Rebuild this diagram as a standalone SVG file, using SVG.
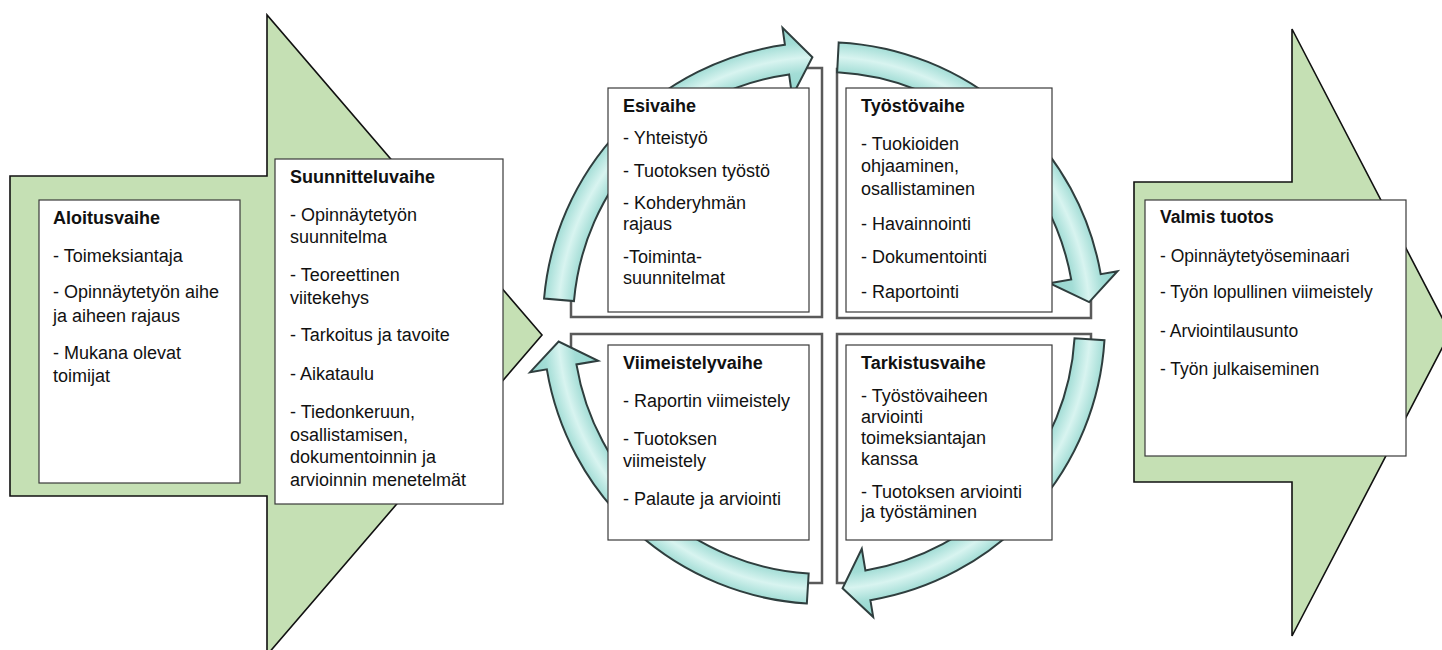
<svg xmlns="http://www.w3.org/2000/svg" width="1442" height="650" viewBox="0 0 1442 650">
  <style>
    .big { fill: #c5e0b4; stroke: #111; stroke-width: 1.6; stroke-linejoin: miter; }
    .box { fill: #fff; stroke: #3a3a3a; stroke-width: 1.2; }
    .panel { fill: #fff; stroke: #5a5a5a; stroke-width: 2.5; }
    .ring { fill: url(#ringGrad); stroke: #2f3e3e; stroke-width: 2; stroke-linejoin: miter; }
    text { font-family: "Liberation Sans", Arial, sans-serif; font-size: 18px; fill: #111; }
    .t { font-weight: bold; }
    .r text { font-size: 17.5px; }
  </style>
  <defs>
    <radialGradient id="ringGrad" gradientUnits="userSpaceOnUse" cx="824" cy="323" r="300">
      <stop offset="0.76" stop-color="#8fd4cc"/>
      <stop offset="0.837" stop-color="#a3ddd6"/>
      <stop offset="0.887" stop-color="#d8f4f0"/>
      <stop offset="0.937" stop-color="#a3ddd6"/>
      <stop offset="1" stop-color="#8fd4cc"/>
    </radialGradient>
    <clipPath id="ringClip">
      <circle cx="824" cy="323" r="272"/>
    </clipPath>
    <path id="cycArrow" class="ring" d="M 544.07,298.51 A 281 281 0 0 1 784.89,44.73 L 782.53,27.90 L 812.40,57.25 L 792.13,96.23 L 789.07,74.44 A 251 251 0 0 0 573.96,301.12 Z"/>
  </defs>

  <g id="arrow-left">
    <polygon class="big" points="10,176 267,176 267,15 542,335 267,655 267,496 10,496"/>
  </g>
  <g id="arrow-right">
    <polygon class="big" points="1134,182 1292,182 1292,29 1450,333 1292,636 1292,482 1134,482"/>
  </g>

  <g id="node-aloitus">
    <rect class="box" x="39" y="200" width="201" height="283"/>
    <text class="t" x="53" y="224">Aloitusvaihe</text>
    <text x="53" y="262">- Toimeksiantaja</text>
    <text x="53" y="298">- Opinnäytetyön aihe</text>
    <text x="53" y="322">ja aiheen rajaus</text>
    <text x="53" y="359">- Mukana olevat</text>
    <text x="53" y="382">toimijat</text>
  </g>

  <g id="node-suunnittelu">
    <rect class="box" x="275" y="159" width="228" height="345"/>
    <text class="t" x="290" y="183">Suunnitteluvaihe</text>
    <text x="290" y="221">- Opinnäytetyön</text>
    <text x="290" y="243">suunnitelma</text>
    <text x="290" y="281">- Teoreettinen</text>
    <text x="290" y="304">viitekehys</text>
    <text x="290" y="341">- Tarkoitus ja tavoite</text>
    <text x="290" y="380">- Aikataulu</text>
    <text x="290" y="418">- Tiedonkeruun,</text>
    <text x="290" y="441">osallistamisen,</text>
    <text x="290" y="463">dokumentoinnin ja</text>
    <text x="290" y="486">arvioinnin menetelmät</text>
  </g>

  <g id="panels" clip-path="url(#ringClip)">
    <rect class="panel" x="571" y="68" width="251" height="249"/>
    <rect class="panel" x="837" y="69" width="254" height="249"/>
    <rect class="panel" x="571" y="334" width="251" height="249"/>
    <rect class="panel" x="837" y="334" width="254" height="249"/>
  </g>

  <g id="connectors">
    <use href="#cycArrow"/>
    <use href="#cycArrow" transform="rotate(88 824 323)"/>
    <use href="#cycArrow" transform="rotate(178.5 824 323)"/>
    <use href="#cycArrow" transform="rotate(268.5 824 323)"/>
  </g>

  <g id="node-esivaihe">
    <rect class="box" x="608" y="88" width="201" height="224"/>
    <text class="t" x="623" y="112">Esivaihe</text>
    <text x="623" y="144">- Yhteistyö</text>
    <text x="623" y="177">- Tuotoksen työstö</text>
    <text x="623" y="209">- Kohderyhmän</text>
    <text x="623" y="230">rajaus</text>
    <text x="623" y="263">-Toiminta-</text>
    <text x="623" y="284">suunnitelmat</text>
  </g>

  <g id="node-tyostovaihe">
    <rect class="box" x="846" y="88" width="206" height="224"/>
    <text class="t" x="861" y="112">Työstövaihe</text>
    <text x="861" y="150">- Tuokioiden</text>
    <text x="861" y="172">ohjaaminen,</text>
    <text x="861" y="195">osallistaminen</text>
    <text x="861" y="230">- Havainnointi</text>
    <text x="861" y="263">- Dokumentointi</text>
    <text x="861" y="298">- Raportointi</text>
  </g>

  <g id="node-viimeistely">
    <rect class="box" x="608" y="345" width="201" height="195"/>
    <text class="t" x="623" y="369">Viimeistelyvaihe</text>
    <text x="623" y="407">- Raportin viimeistely</text>
    <text x="623" y="445">- Tuotoksen</text>
    <text x="623" y="467">viimeistely</text>
    <text x="623" y="505">- Palaute ja arviointi</text>
  </g>

  <g id="node-tarkistus">
    <rect class="box" x="846" y="345" width="206" height="195"/>
    <text class="t" x="861" y="369">Tarkistusvaihe</text>
    <text x="861" y="402">- Työstövaiheen</text>
    <text x="861" y="423">arviointi</text>
    <text x="861" y="444">toimeksiantajan</text>
    <text x="861" y="465">kanssa</text>
    <text x="861" y="498">- Tuotoksen arviointi</text>
    <text x="861" y="518">ja työstäminen</text>
  </g>

  <g id="node-valmis" class="r">
    <rect class="box" x="1145" y="200" width="261" height="256"/>
    <text class="t" x="1160" y="223">Valmis tuotos</text>
    <text x="1160" y="262">- Opinnäytetyöseminaari</text>
    <text x="1160" y="298">- Työn lopullinen viimeistely</text>
    <text x="1160" y="337">- Arviointilausunto</text>
    <text x="1160" y="375">- Työn julkaiseminen</text>
  </g>
</svg>
